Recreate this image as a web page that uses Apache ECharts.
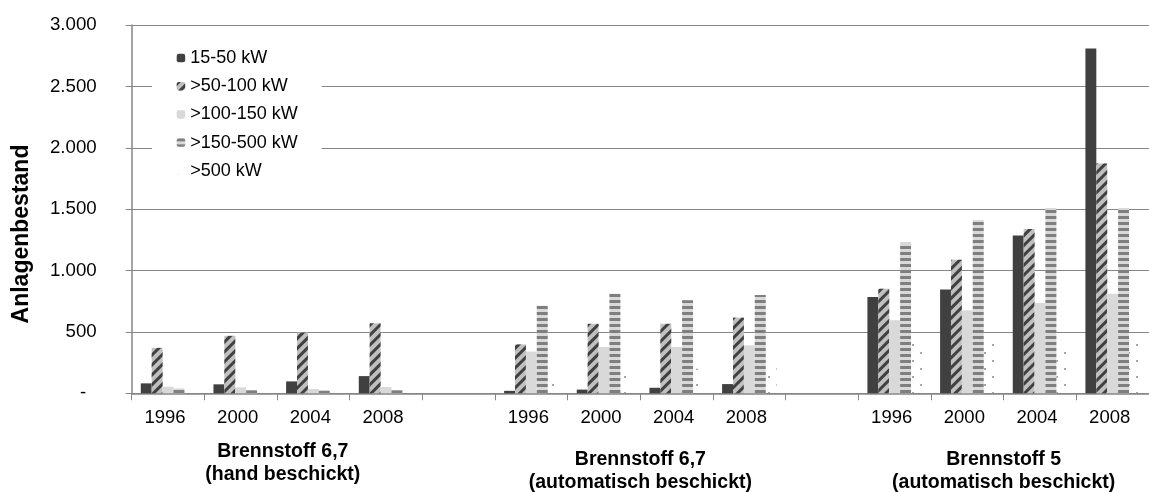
<!DOCTYPE html>
<html>
<head>
<meta charset="utf-8">
<script src="https://cdn.jsdelivr.net/npm/echarts@6/dist/echarts.min.js"></script>
<style>
html,body{margin:0;padding:0;background:#fff;}
#main{width:1149px;height:492px;}
</style>
</head>
<body>
<div id="main"></div>
<script>
// ---- data ----
var categories = ['1996','2000','2004','2008','','1996','2000','2004','2008','','1996','2000','2004','2008'];
var seriesNames = ['15-50 kW','>50-100 kW','>100-150 kW','>150-500 kW','>500 kW'];
var s15_50   = [81, 73, 97, 140, null, 20, 30, 45, 75, null, 784, 846, 1285, 2808];
var s50_100  = [370, 468, 495, 570, null, 398, 566, 566, 616, null, 852, 1087, 1339, 1872];
var s100_150 = [54, 49, 35, 51, null, 340, 378, 378, 390, null, 595, 676, 735, 811];
var s150_500 = [40, 24, 21, 24, null, 714, 810, 757, 801, null, 1226, 1412, 1510, 1510];
var s500     = [0, 0, 0, 0, null, 165, 220, 200, 230, null, 430, 430, 367, 430];
var groupLabels = ['Brennstoff 6,7\n(hand beschickt)', 'Brennstoff 6,7\n(automatisch beschickt)', 'Brennstoff 5\n(automatisch beschickt)'];
var yTicks = [0, 500, 1000, 1500, 2000, 2500, 3000];

// ---- layout (not data) ----
var groupAnchor = [1.58, 6.5, 11.5];   // category positions for group label centres
var groupY = [463.5, 471, 471];
var groupLH = [23, 22.5, 22.5];

var chart = echarts.init(document.getElementById('main'));
var FONT = 'Liberation Sans, Arial, sans-serif';
var AX = '#868686';

function fmt(v){
  if (v === 0) return '-  ';
  return String(v).replace(/\B(?=(\d{3})+(?!\d))/g, '.');
}

var styles = [
  {color:'#404040'},
  {color:'#c0c0c0', decal:{symbol:'rect', symbolSize:1, color:'#404040', dashArrayX:[1,0], dashArrayY:[3,4], rotation:-Math.PI/4}},
  {color:'#d9d9d9'},
  {color:'#d9d9d9', decal:{symbol:'rect', symbolSize:1, color:'#7f7f7f', dashArrayX:[1,0], dashArrayY:[3,3], rotation:0}},
  {color:'rgba(255,255,255,0)', decal:{symbol:'circle', symbolSize:1, color:'#8a8a8a', dashArrayX:[[2,14],[0,8,2,6]], dashArrayY:[2,6], rotation:0}}
];
var dataArr = [s15_50, s50_100, s100_150, s150_500, s500];

var series = dataArr.map(function(d, i){
  return {
    name: seriesNames[i],
    type: 'bar',
    data: d,
    barGap: '0%',
    barCategoryGap: '25%',
    itemStyle: styles[i],
    emphasis: {disabled: true},
    animation: false
  };
});

var option = {
  animation: false,
  textStyle: {fontFamily: FONT},
  grid: {left: 131.7, top: 25, width: 1026.6, height: 368.3},
  legend: {
    orient: 'vertical',
    left: 152, top: 35,
    padding: [14, 24, 20, 24.7],
    backgroundColor: '#fff',
    itemWidth: 8.5, itemHeight: 8.5, itemGap: 10.2,
    textStyle: {fontFamily: FONT, fontSize: 18, lineHeight: 18, color: '#000'},
    data: seriesNames,
    selectedMode: false
  },
  xAxis: {
    type: 'category',
    data: categories,
    axisLine: {lineStyle: {color: AX, width: 1.5}},
    axisTick: {show: true, length: 7, interval: 0, lineStyle: {color: AX}},
    axisLabel: {interval: 0, margin: 15, color: '#000', fontSize: 18.5, fontFamily: FONT, padding: [0, 6, 0, 0]}
  },
  yAxis: {
    type: 'value',
    min: 0, max: 3000, interval: 500,
    axisLine: {show: true, lineStyle: {color: AX, width: 1.5}},
    axisTick: {show: true, length: 6, lineStyle: {color: AX}},
    splitLine: {lineStyle: {color: AX, width: 1.2}},
    axisLabel: {margin: 35, color: '#000', fontSize: 18.7, fontFamily: FONT, formatter: fmt}
  },
  series: series
};
chart.setOption(option);

function catPx(pos){
  var i0 = Math.floor(pos), f = pos - i0;
  var a = chart.convertToPixel({xAxisIndex: 0}, i0);
  var b = chart.convertToPixel({xAxisIndex: 0}, i0 + 1);
  return a + (b - a) * f;
}
var graphics = groupLabels.map(function(t, k){
  return {
    type: 'text',
    x: catPx(groupAnchor[k]), y: groupY[k],
    style: {text: t, fontFamily: FONT, fontWeight: 'bold', fontSize: 19.5, fill: '#000',
            textAlign: 'center', textVerticalAlign: 'middle', lineHeight: groupLH[k]}
  };
});
graphics.push({
  type: 'text', x: 22, y: 234, rotation: Math.PI/2,
  style: {text: 'Anlagenbestand', fontFamily: FONT, fontWeight: 'bold', fontSize: 23, fill: '#000',
          textAlign: 'center', textVerticalAlign: 'middle'}
});
chart.setOption({graphic: graphics});
</script>
</body>
</html>
